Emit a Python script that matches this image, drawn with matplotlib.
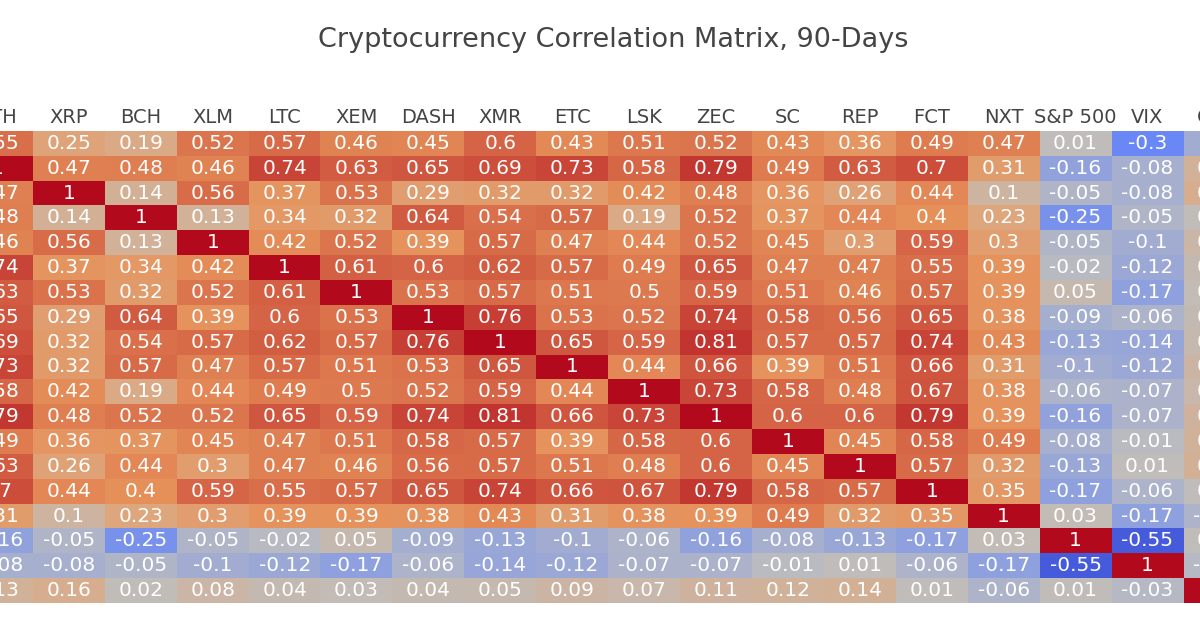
import matplotlib
matplotlib.use("Agg")
import matplotlib.pyplot as plt
import numpy as np
from matplotlib.colors import LinearSegmentedColormap

# assets (first and last columns fall outside the crop)
assets = ["BTC", "ETH", "XRP", "BCH", "XLM", "LTC", "XEM", "DASH", "XMR", "ETC",
          "LSK", "ZEC", "SC", "REP", "FCT", "NXT", "S&P 500", "VIX", "Gold"]

btc = [1, 0.55, 0.25, 0.19, 0.52, 0.57, 0.46, 0.45, 0.6, 0.43, 0.51, 0.52, 0.43, 0.36, 0.49, 0.47, 0.01, -0.3, -0.1]
eth = [0.55, 1, 0.47, 0.48, 0.46, 0.74, 0.63, 0.65, 0.69, 0.73, 0.58, 0.79, 0.49, 0.63, 0.7, 0.31, -0.16, -0.08, 0.13]
xrp = [0.25, 0.47, 1, 0.14, 0.56, 0.37, 0.53, 0.29, 0.32, 0.32, 0.42, 0.48, 0.36, 0.26, 0.44, 0.1, -0.05, -0.08, 0.16]
bch = [0.19, 0.48, 0.14, 1, 0.13, 0.34, 0.32, 0.64, 0.54, 0.57, 0.19, 0.52, 0.37, 0.44, 0.4, 0.23, -0.25, -0.05, 0.02]
xlm = [0.52, 0.46, 0.56, 0.13, 1, 0.42, 0.52, 0.39, 0.57, 0.47, 0.44, 0.52, 0.45, 0.3, 0.59, 0.3, -0.05, -0.1, 0.08]
ltc = [0.57, 0.74, 0.37, 0.34, 0.42, 1, 0.61, 0.6, 0.62, 0.57, 0.49, 0.65, 0.47, 0.47, 0.55, 0.39, -0.02, -0.12, 0.04]
xem = [0.46, 0.63, 0.53, 0.32, 0.52, 0.61, 1, 0.53, 0.57, 0.51, 0.5, 0.59, 0.51, 0.46, 0.57, 0.39, 0.05, -0.17, 0.03]
dash = [0.45, 0.65, 0.29, 0.64, 0.39, 0.6, 0.53, 1, 0.76, 0.53, 0.52, 0.74, 0.58, 0.56, 0.65, 0.38, -0.09, -0.06, 0.04]
xmr = [0.6, 0.69, 0.32, 0.54, 0.57, 0.62, 0.57, 0.76, 1, 0.65, 0.59, 0.81, 0.57, 0.57, 0.74, 0.43, -0.13, -0.14, 0.05]
etc = [0.43, 0.73, 0.32, 0.57, 0.47, 0.57, 0.51, 0.53, 0.65, 1, 0.44, 0.66, 0.39, 0.51, 0.66, 0.31, -0.1, -0.12, 0.09]
lsk = [0.51, 0.58, 0.42, 0.19, 0.44, 0.49, 0.5, 0.52, 0.59, 0.44, 1, 0.73, 0.58, 0.48, 0.67, 0.38, -0.06, -0.07, 0.07]
zec = [0.52, 0.79, 0.48, 0.52, 0.52, 0.65, 0.59, 0.74, 0.81, 0.66, 0.73, 1, 0.6, 0.6, 0.79, 0.39, -0.16, -0.07, 0.11]
sc = [0.43, 0.49, 0.36, 0.37, 0.45, 0.47, 0.51, 0.58, 0.57, 0.39, 0.58, 0.6, 1, 0.45, 0.58, 0.49, -0.08, -0.01, 0.12]
rep = [0.36, 0.63, 0.26, 0.44, 0.3, 0.47, 0.46, 0.56, 0.57, 0.51, 0.48, 0.6, 0.45, 1, 0.57, 0.32, -0.13, 0.01, 0.14]
fct = [0.49, 0.7, 0.44, 0.4, 0.59, 0.55, 0.57, 0.65, 0.74, 0.66, 0.67, 0.79, 0.58, 0.57, 1, 0.35, -0.17, -0.06, 0.01]
nxt = [0.47, 0.31, 0.1, 0.23, 0.3, 0.39, 0.39, 0.38, 0.43, 0.31, 0.38, 0.39, 0.49, 0.32, 0.35, 1, 0.03, -0.17, -0.06]
spx = [0.01, -0.16, -0.05, -0.25, -0.05, -0.02, 0.05, -0.09, -0.13, -0.1, -0.06, -0.16, -0.08, -0.13, -0.17, 0.03, 1, -0.55, 0.01]
vix = [-0.3, -0.08, -0.08, -0.05, -0.1, -0.12, -0.17, -0.06, -0.14, -0.12, -0.07, -0.07, -0.01, 0.01, -0.06, -0.17, -0.55, 1, -0.03]
gold = [-0.1, 0.13, 0.16, 0.02, 0.08, 0.04, 0.03, 0.04, 0.05, 0.09, 0.07, 0.11, 0.12, 0.14, 0.01, -0.06, 0.01, -0.03, 1]

corr = np.array([btc, eth, xrp, bch, xlm, ltc, xem, dash, xmr, etc, lsk, zec,
                 sc, rep, fct, nxt, spx, vix, gold])

# old plotly RdBu (reversed: red = high)
cmap = LinearSegmentedColormap.from_list("rdbu", [
    (0.0, (5/255, 10/255, 172/255)),
    (0.35, (106/255, 137/255, 247/255)),
    (0.5, (190/255, 190/255, 190/255)),
    (0.6, (220/255, 170/255, 132/255)),
    (0.7, (230/255, 145/255, 90/255)),
    (1.0, (178/255, 10/255, 28/255)),
])

W, H = 1200, 630
fig = plt.figure(figsize=(12, 6.3), dpi=100)

# heatmap is wider than the picture: BTC column and most of the last one are cut off
cw = 71.9
left_px = 33 - 2 * cw
top_px, bot_px = 131, 603
ax = fig.add_axes([left_px / W, 1 - bot_px / H, len(assets) * cw / W, (bot_px - top_px) / H])

ax.imshow(corr, cmap=cmap, vmin=-1, vmax=1, aspect="auto", interpolation="nearest")

for i in range(len(assets)):
    for j in range(len(assets)):
        ax.text(j, i, f"{corr[i, j]:g}", ha="center", va="center",
                color="white", fontsize=14.5)

ax.xaxis.tick_top()
ax.set_xticks(range(len(assets)))
ax.set_xticklabels(assets, fontsize=14, color="#444444")
ax.set_yticks([])
ax.tick_params(axis="x", length=0, pad=3)
for s in ax.spines.values():
    s.set_visible(False)

fig.text(613 / W, 1 - 40 / H, "Cryptocurrency Correlation Matrix, 90-Days",
         ha="center", va="center", fontsize=19.5, color="#444444")

fig.savefig("out.png", dpi=100)
